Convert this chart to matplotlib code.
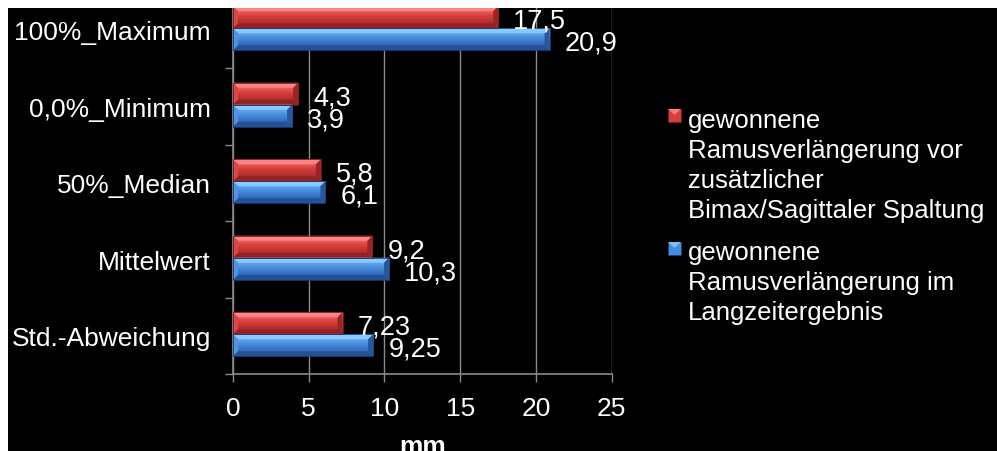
import numpy as np
import matplotlib
matplotlib.use("Agg")
import matplotlib.pyplot as plt
from matplotlib.patches import Rectangle, Polygon

plt.rcParams['font.family'] = ['Liberation Sans', 'DejaVu Sans']

# ---- data -------------------------------------------------------------
categories = ["100%_Maximum", "0,0%_Minimum", "50%_Median", "Mittelwert", "Std.-Abweichung"]
vor_spaltung = [17.5, 4.3, 5.8, 9.2, 7.23]
langzeit = [20.9, 3.9, 6.1, 10.3, 9.25]
label_vor = ["17,5", "4,3", "5,8", "9,2", "7,23"]
label_langzeit = ["20,9", "3,9", "6,1", "10,3", "9,25"]
legend_vor = "gewonnene\nRamusverlängerung vor\nzusätzlicher\nBimax/Sagittaler Spaltung"
legend_langzeit = "gewonnene\nRamusverlängerung im\nLangzeitergebnis"
x_ticks = [0, 5, 10, 15, 20, 25]
x_label = "mm"

# ---- figure geometry (pixels) ----------------------------------------
W, H = 997, 452
DPI = 100
fig = plt.figure(figsize=(W / DPI, H / DPI), dpi=DPI, facecolor="black")


def fx(px):
    return px / W


def fy(py):
    return 1 - py / H


ax_left, ax_right = 233, 611.7
ax_top, ax_bottom = -7.5, 375
ax = fig.add_axes([fx(ax_left), fy(ax_bottom), fx(ax_right - ax_left),
                   (ax_bottom - ax_top) / H])
ax.set_facecolor("black")

n = len(categories)
ax.set_xlim(0, 25)
ax.set_ylim(0, n)
px_x = (ax_right - ax_left) / 25.0
px_y = (ax_bottom - ax_top) / n

RED = dict(light=np.array([248, 125, 125]) / 255, mid=np.array([214, 62, 60]) / 255,
           dark=np.array([148, 34, 34]) / 255, edge=np.array([115, 28, 28]) / 255)
BLUE = dict(light=np.array([128, 190, 248]) / 255, mid=np.array([70, 140, 224]) / 255,
            dark=np.array([36, 82, 152]) / 255, edge=np.array([28, 60, 118]) / 255)


def bevel_bar(x1, y0, y1, pal):
    """Bar from 0 to x1 between y0 (bottom) and y1 (top) with a bevelled look."""
    t = np.linspace(0, 1, 64)[:, None]
    grad = np.where(t < 0.45, pal['light'] * (1 - t / 0.45) + pal['mid'] * (t / 0.45),
                    pal['mid'] * (1 - (t - 0.45) / 0.55) + pal['dark'] * ((t - 0.45) / 0.55))
    img = grad[:, None, :].repeat(2, axis=1)
    ax.imshow(img, extent=[0, x1, y0, y1], aspect='auto', origin='upper',
              zorder=3, interpolation='bilinear')
    bx = 5 / px_x
    by = 5 / px_y
    # top bevel strip
    ax.add_patch(Polygon([(0, y1), (x1, y1), (x1 - bx, y1 - by), (bx, y1 - by)],
                         closed=True, facecolor=np.clip(pal['light'] * 1.08, 0, 1),
                         edgecolor='none', zorder=4, alpha=0.9))
    # bottom bevel strip
    ax.add_patch(Polygon([(0, y0), (x1, y0), (x1 - bx, y0 + by), (bx, y0 + by)],
                         closed=True, facecolor=pal['dark'], edgecolor='none', zorder=4))
    # left end face
    ax.add_patch(Polygon([(0, y0), (bx, y0 + by), (bx, y1 - by), (0, y1)],
                         closed=True, facecolor=pal['mid'] * 0.85 + pal['light'] * 0.15,
                         edgecolor='none', zorder=4))
    # right end face
    ax.add_patch(Polygon([(x1, y0), (x1 - bx, y0 + by), (x1 - bx, y1 - by), (x1, y1)],
                         closed=True, facecolor=pal['dark'] * 0.9 + pal['mid'] * 0.1,
                         edgecolor='none', zorder=4))
    ax.add_patch(Rectangle((0, y0), x1, y1 - y0, facecolor='none',
                           edgecolor=pal['edge'], linewidth=0.6, zorder=5))


bar_h = 22 / px_y
label_size = 19.5
for i, cat in enumerate(categories):
    c = n - 1 - i + 0.5  # category centre (first category at top)
    off = 1.5 / px_y
    # red bar above, blue bar below
    r0, r1 = c + off, c + off + bar_h
    b0, b1 = c + off - bar_h, c + off
    bevel_bar(vor_spaltung[i], r0, r1, RED)
    bevel_bar(langzeit[i], b0, b1, BLUE)
    ax.annotate(label_vor[i], (vor_spaltung[i], (r0 + r1) / 2), xytext=(11, -2.5),
                textcoords='offset points', color='white', fontsize=label_size,
                ha='left', va='center', zorder=6)
    ax.annotate(label_langzeit[i], (langzeit[i], (b0 + b1) / 2), xytext=(11, -2.5),
                textcoords='offset points', color='white', fontsize=label_size,
                ha='left', va='center', zorder=6)

# ---- axes styling ----------------------------------------------------
grid_col = "#8a8a8a"
ax.set_xticks(x_ticks)
ax.set_xticklabels([str(v) for v in x_ticks])
ax.set_yticks(np.arange(0, n + 1))
ax.set_yticklabels([])
ax.set_yticks(np.arange(n) + 0.5, minor=True)
ax.set_yticklabels(categories[::-1], minor=True)
ax.tick_params(axis='y', which='minor', length=0, pad=16, labelsize=19,
               labelcolor='white')
ax.tick_params(axis='y', which='major', length=6, width=1, color=grid_col, direction='out')
ax.tick_params(axis='x', length=6, width=1, color=grid_col, direction='out',
               labelsize=19, labelcolor='white', pad=10)
ax.grid(axis='x', color=grid_col, linewidth=1, zorder=1)
ax.set_axisbelow(True)
for s in ['top', 'right']:
    ax.spines[s].set_visible(False)
for s in ['left', 'bottom']:
    ax.spines[s].set_color(grid_col)
    ax.spines[s].set_linewidth(1.2)
ax.set_xlabel(x_label, color='white', fontsize=19, fontweight='bold', labelpad=10)

# ---- legend ----------------------------------------------------------
def legend_marker(px0, py0, pal, size=13):
    x0, y1 = fx(px0), fy(py0)
    w, h = size / W, size / H
    fig.add_artist(Rectangle((x0, y1 - h), w, h, transform=fig.transFigure,
                             facecolor=pal['mid'], edgecolor=pal['edge'], linewidth=0.6))
    fig.add_artist(Polygon([(x0, y1), (x0 + w, y1), (x0 + w / 2, y1 - h * 0.45)],
                           closed=True, transform=fig.transFigure,
                           facecolor=pal['light'], edgecolor='none'))


def legend_text(text, px0, py_first, step=30):
    for k, line in enumerate(text.split("\n")):
        fig.text(fx(px0), fy(py_first + k * step), line, color='white', fontsize=18.5,
                 ha='left', va='center')


legend_marker(668, 110, RED)
legend_text(legend_vor, 688, 121)
legend_marker(668, 243, BLUE)
legend_text(legend_langzeit, 688, 253)

# white frame along the top and left edges
fig.add_artist(Rectangle((0, fy(9)), 1, 9 / H, transform=fig.transFigure,
                         facecolor='white', edgecolor='none', zorder=20))
fig.add_artist(Rectangle((0, 0), 8 / W, 1, transform=fig.transFigure,
                         facecolor='white', edgecolor='none', zorder=20))

fig.savefig("out.png", dpi=DPI, facecolor=fig.get_facecolor())
